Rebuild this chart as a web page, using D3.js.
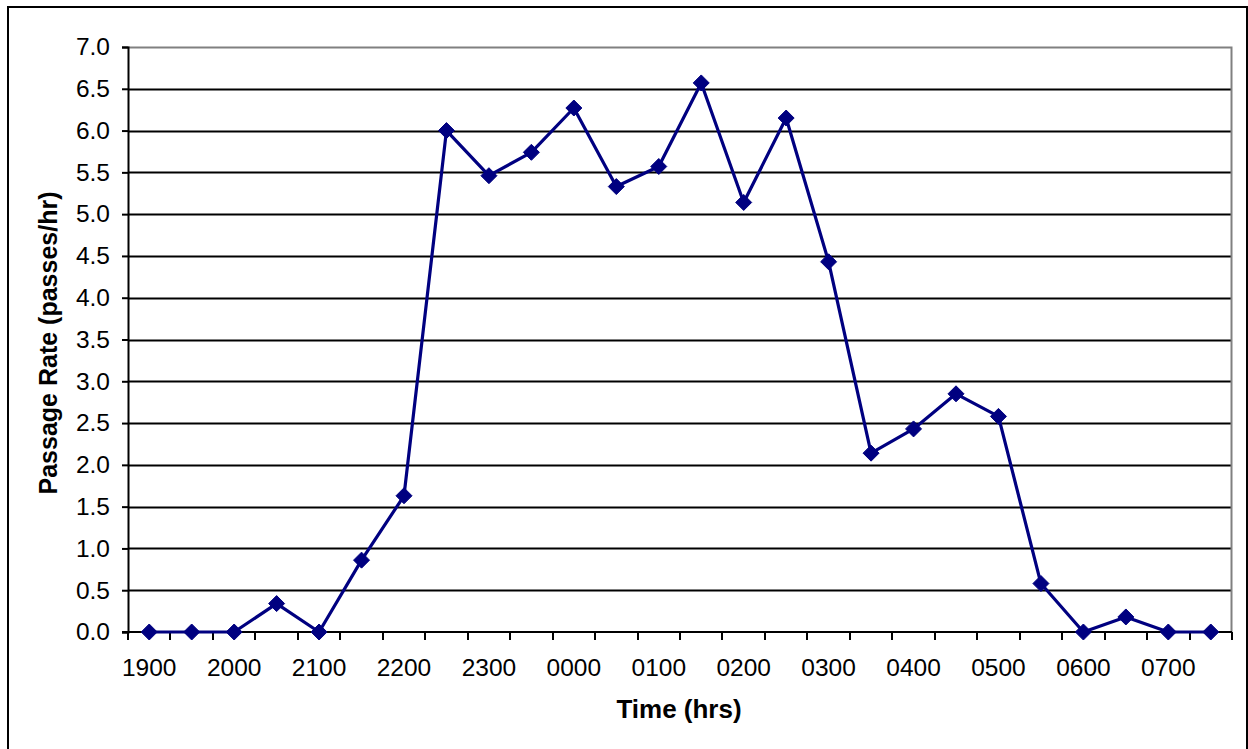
<!DOCTYPE html>
<html>
<head>
<meta charset="utf-8">
<script src="https://cdn.jsdelivr.net/npm/d3@7"></script>
<style>
  html, body { margin: 0; padding: 0; background: #fff; }
  svg { display: block; }
</style>
</head>
<body>
<script>
const categories = ["1900","1930","2000","2030","2100","2130","2200","2230","2300","2330",
  "0000","0030","0100","0130","0200","0230","0300","0330","0400","0430","0500","0530",
  "0600","0630","0700","0730"];
const passageRate = [0, 0, 0, 0.34, 0, 0.86, 1.63, 6.00, 5.46, 5.74,
  6.27, 5.33, 5.57, 6.57, 5.14, 6.15, 4.43, 2.14, 2.43, 2.85, 2.58, 0.58,
  0, 0.18, 0, 0];
const yTicks = [0, 0.5, 1, 1.5, 2, 2.5, 3, 3.5, 4, 4.5, 5, 5.5, 6, 6.5, 7];
const xTickLabels = ["1900","2000","2100","2200","2300","0000","0100","0200","0300","0400","0500","0600","0700"];
const yTitle = "Passage Rate (passes/hr)";
const xTitle = "Time (hrs)";

(function () {
const W = 1248, H = 749;
const pLeft = 128, pRight = 1232, pTop = 47, pBottom = 632;
const font = "'Liberation Sans', Arial, sans-serif";

const svg = d3.select("body").append("svg").attr("width", W).attr("height", H);
svg.append("rect").attr("width", W).attr("height", H).attr("fill", "#fff");

// outer frame
svg.append("rect").attr("x", 8).attr("y", 7).attr("width", 1239).attr("height", 760)
  .attr("fill", "none").attr("stroke", "#000").attr("stroke-width", 2);

const x = d3.scaleBand().domain(categories).range([pLeft, pRight]).paddingInner(0).paddingOuter(0);
const y = d3.scaleLinear().domain([0, 7]).range([pBottom, pTop]);

// gridlines
svg.append("g").selectAll("line").data(yTicks.filter(d => d > 0 && d < 7)).join("line")
  .attr("x1", pLeft).attr("x2", pRight)
  .attr("y1", d => Math.round(y(d)) + 0.5).attr("y2", d => Math.round(y(d)) + 0.5)
  .attr("stroke", "#000").attr("stroke-width", 2);

// plot area top & right border (gray)
svg.append("path")
  .attr("d", `M${pLeft},${pTop + 0.5}H${pRight - 0.5}V${pBottom}`)
  .attr("fill", "none").attr("stroke", "#808080").attr("stroke-width", 2);

// y axis
const yAxis = d3.axisLeft(y).tickValues(yTicks).tickSize(6).tickPadding(12)
  .tickFormat(d3.format(".1f"));
const gy = svg.append("g").attr("transform", `translate(${pLeft},0)`).call(yAxis);
gy.select(".domain").attr("stroke", "#000").attr("stroke-width", 2);
gy.selectAll(".tick line").attr("stroke", "#000").attr("stroke-width", 2);
gy.selectAll(".tick text").attr("font-family", font).attr("font-size", 24.5).attr("fill", "#000");

// x axis: ticks at category boundaries
const boundaries = d3.range(categories.length + 1).map(i => pLeft + i * x.bandwidth());
const gx = svg.append("g");
gx.append("line").attr("x1", pLeft - 6).attr("x2", pRight).attr("y1", pBottom).attr("y2", pBottom)
  .attr("stroke", "#000").attr("stroke-width", 2);
gx.selectAll("line.tk").data(boundaries).join("line").attr("class", "tk")
  .attr("x1", d => Math.round(d)).attr("x2", d => Math.round(d))
  .attr("y1", pBottom).attr("y2", pBottom + 8)
  .attr("stroke", "#000").attr("stroke-width", 2);
gx.selectAll("text").data(xTickLabels).join("text")
  .attr("x", d => x(d) + x.bandwidth() / 2)
  .attr("y", 676)
  .attr("text-anchor", "middle")
  .attr("font-family", font).attr("font-size", 24.5).attr("fill", "#000")
  .text(d => d);

// line
const line = d3.line().x((d, i) => x(categories[i]) + x.bandwidth() / 2).y(d => y(d));
svg.append("path").datum(passageRate).attr("d", line)
  .attr("fill", "none").attr("stroke", "#000080").attr("stroke-width", 3.2)
  .attr("stroke-linejoin", "round");

// diamond markers
const s = 8;
svg.append("g").selectAll("path").data(passageRate).join("path")
  .attr("transform", (d, i) => `translate(${x(categories[i]) + x.bandwidth() / 2},${y(d)})`)
  .attr("d", `M0,${-s}L${s},0L0,${s}L${-s},0Z`)
  .attr("fill", "#000080").attr("stroke", "#000080").attr("stroke-width", 1);

// axis titles
svg.append("text").attr("x", 679).attr("y", 718)
  .attr("text-anchor", "middle").attr("font-family", font).attr("font-size", 26)
  .attr("font-weight", "bold").attr("fill", "#000").text(xTitle);
svg.append("text").attr("transform", "translate(57,343) rotate(-90)")
  .attr("text-anchor", "middle").attr("font-family", font).attr("font-size", 25)
  .attr("font-weight", "bold").attr("fill", "#000").text(yTitle);
})();
</script>
</body>
</html>
